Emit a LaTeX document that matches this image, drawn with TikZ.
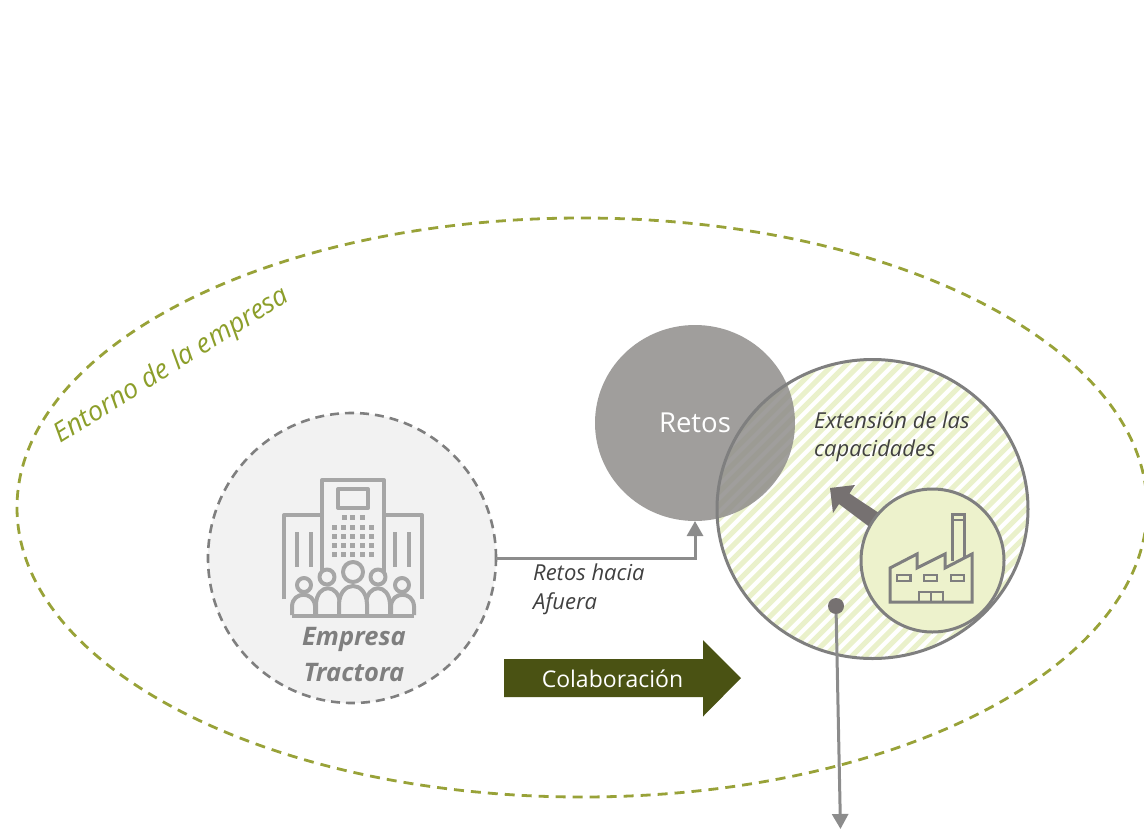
\documentclass[tikz,border=0pt]{standalone}
\usepackage{fontspec}
\setmainfont{Open Sans}
\usetikzlibrary{shapes.geometric,arrows.meta}
\definecolor{olivedash}{HTML}{98A238}
\definecolor{olivetext}{HTML}{8C9E2A}
\definecolor{darkolive}{HTML}{4A5213}
\definecolor{hatch}{HTML}{EAF1CB}
\definecolor{pale}{HTML}{EDF2CC}
\definecolor{edgegrey}{HTML}{7F7F7F}
\definecolor{retosgrey}{HTML}{8F8D8B}
\definecolor{icongrey}{HTML}{A6A6A6}
\definecolor{arrowgrey}{HTML}{767171}
\definecolor{linkgrey}{HTML}{8C8C8C}
\definecolor{inktext}{HTML}{404040}
\definecolor{softgrey}{HTML}{F2F2F2}
\tikzset{
  x=1pt,y=-1pt,
  round/.style={ellipse,inner sep=0pt,outer sep=0pt},
  link/.style={draw=linkgrey,line width=3pt,-{Triangle[length=15pt,width=16pt]}},
  bldg/.style={draw=icongrey,line width=4pt,line join=round,fill=none},
  win/.style={fill=icongrey,draw=none},
  fact/.style={draw=edgegrey,line width=3pt,line join=miter,fill=none},
  note/.style={font=\fontsize{22}{28.5}\selectfont\itshape,text=inktext,align=left,inner sep=0pt,anchor=north west},
}
\begin{document}
\begin{tikzpicture}
\useasboundingbox (0,0) rectangle (1144,828);
\clip (0,0) rectangle (1144,828);
% outer environment
\node[round,draw=olivedash,line width=2.8pt,dash pattern=on 10pt off 7pt,minimum width=1130pt,minimum height=579pt] (entorno) at (582,507.5) {};
\node[font=\fontsize{27}{32}\selectfont\itshape,text=olivetext,rotate=32,inner sep=0pt] (entornolabel) at (172,366) {Entorno de la empresa};
% hatched circle
\begin{scope}
\clip (872.5,509) ellipse [x radius=155.5,y radius=149.5];
\foreach \k in {-30,...,40}{
  \draw[hatch,line width=5pt] (700+\k*13.5,700) -- (700+\k*13.5+360,340);
}
\end{scope}
% retos
\node[round,fill=retosgrey,fill opacity=0.85,text opacity=1,minimum width=200pt,minimum height=196pt,text=white,font=\fontsize{27.5}{32}\selectfont] (retos) at (695,423) {\raisebox{-2pt}{Retos}};
\node[round,draw=edgegrey,line width=3pt,minimum width=311pt,minimum height=299pt] (extension) at (872.5,509) {};
\node[note] (extlabel) at (814,411) {Extensión de las\\capacidades};
% grey arrow
\fill[arrowgrey] (830,488) -- (855,485) -- (849.5,493.5) -- (885,517) -- (875,531) -- (839,504) -- (833,513) -- cycle;
% factory circle
\node[round,draw=edgegrey,fill=pale,line width=3pt,minimum width=143pt,minimum height=143pt] (fabrica) at (932.5,560.5) {};
\draw[fact] (890,602) -- (890,568) -- (917,554) -- (917,568) -- (945,554) -- (945,568) -- (972,554) -- (972,602) -- cycle;
\draw[fact] (952.5,561) -- (952.5,514.5) -- (964,514.5) -- (964,557);
\draw[fact,line width=2.4pt] (952.5,520) -- (964,520);
\draw[fact,line width=2.4pt] (897,575) rectangle (910.5,581);
\draw[fact,line width=2.4pt] (924,575) rectangle (937,581);
\draw[fact,line width=2.4pt] (951,575) rectangle (964,581);
\draw[fact,line width=2.4pt] (919,602) -- (919,592) -- (943,592) -- (943,602) (931,592) -- (931,602);
% empresa
\node[round,draw=edgegrey,fill=softgrey,line width=2.6pt,dash pattern=on 9pt off 6pt,minimum width=288pt,minimum height=290pt] (empresa) at (352,558) {};
% building icon
\draw[bldg] (284,599) -- (284,515) -- (322,515);
\draw[bldg] (422,599) -- (422,515) -- (384,515);
\draw[bldg] (322,572) -- (322,480) -- (384,480) -- (384,572);
\draw[bldg] (338,489) rectangle (368,508);
\foreach \x in {297,311,395,409}{\draw[icongrey,line width=4pt] (\x,532) -- (\x,567);}
\foreach \x in {344,352.7,362}{\fill[win] (\x-2.5,515) rectangle (\x+2.5,520);}
\foreach \y in {527,536.5,545.5,554.5}{\foreach \x in {334,343,352.7,362.5,371.5}{\fill[win] (\x-2.5,\y-2.5) rectangle (\x+2.5,\y+2.5);}}
\foreach \x/\y/\r in {304/585/7,327/577/7.5,378/577/7.5,402/585/7,353/572/10}{\draw[bldg,fill=softgrey] (\x,\y) circle [radius=\r];}
\draw[bldg,fill=softgrey] (292,615) -- (292,606) .. controls (293,591) and (314,591) .. (315,606) -- (315,615);
\draw[bldg,fill=softgrey] (391,615) -- (391,606) .. controls (392,591) and (413,591) .. (414,606) -- (414,615);
\draw[bldg,fill=softgrey] (316,615) -- (316,604) .. controls (317,583) and (339,583) .. (340,604) -- (340,615);
\draw[bldg,fill=softgrey] (366,615) -- (366,604) .. controls (367,583) and (389,583) .. (390,604) -- (390,615);
\draw[bldg,fill=softgrey] (339,615) -- (339,604) .. controls (340,580) and (366,580) .. (367,604) -- (367,615);
\draw[bldg] (292,615.5) -- (414,615.5);
\node[font=\fontsize{25.5}{36}\selectfont\bfseries\itshape,text=edgegrey,align=center,inner sep=0pt] (emplabel) at (354,655) {Empresa\\Tractora};
% links
\draw[link] (empresa.east) -| (retos.south);
\node[note] (retoslabel) at (533,564) {Retos hacia\\Afuera};
\node[circle,fill=arrowgrey,minimum size=16pt,inner sep=0pt,outer sep=0pt] (dot) at (836,606) {};
\coordinate (salida) at (840.5,829);
\draw[link] (dot) -- (salida);
% collaboration arrow
\fill[darkolive] (504,659) -- (703,659) -- (703,640) -- (741,678) -- (703,716.5) -- (703,697) -- (504,697) -- cycle;
\node[text=white,font=\fontsize{23}{28}\selectfont,inner sep=0pt] (colab) at (612.5,679) {Colaboración};
\end{tikzpicture}
\end{document}
